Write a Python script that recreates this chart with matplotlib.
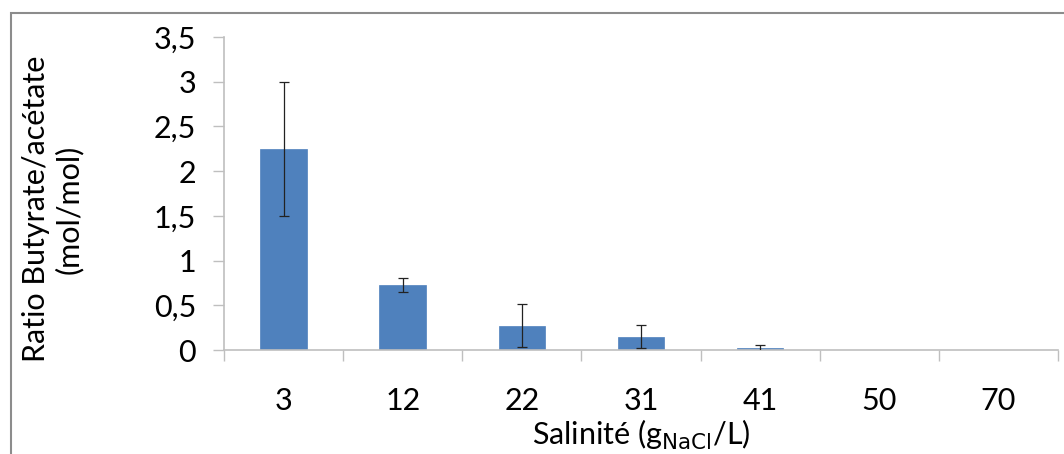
import matplotlib
matplotlib.use("Agg")
import matplotlib.pyplot as plt
from matplotlib.patches import Rectangle

plt.rcParams["font.family"] = ["Lato", "DejaVu Sans"]

salinites = ["3", "12", "22", "31", "41", "50", "70"]
ratios = [2.25, 0.73, 0.27, 0.15, 0.02, 0.0, 0.0]
erreurs = [0.75, 0.08, 0.24, 0.13, 0.04, 0.0, 0.0]
yticks = [0, 0.5, 1, 1.5, 2, 2.5, 3, 3.5]
ytick_labels = ["0", "0,5", "1", "1,5", "2", "2,5", "3", "3,5"]

W, H = 1064, 454
fig = plt.figure(figsize=(W / 100, H / 100), dpi=100)

# cadre gris du graphique (coupé à droite et en bas)
fig.patches.append(
    Rectangle((11 / W, -0.05), 1.2, 1 - 13 / H + 0.05, transform=fig.transFigure,
              fill=False, edgecolor="#8c8c8c", linewidth=1.5)
)

ax = fig.add_axes([224 / W, (H - 350) / H, (1058 - 224) / W, (350 - 37) / H])

x = list(range(len(salinites)))
ax.bar(x, ratios, width=0.39, color="#4F81BD", edgecolor="#4F81BD", linewidth=0.5, zorder=2)
errs = [(i, r, e) for i, r, e in zip(x, ratios, erreurs) if e > 0]
ax.errorbar([e[0] for e in errs], [e[1] for e in errs], yerr=[e[2] for e in errs],
            fmt="none", ecolor="#222222", elinewidth=0.9, capsize=3.5, capthick=0.9, zorder=3)

ax.set_xlim(-0.5, len(salinites) - 0.5)
ax.set_ylim(0, 3.5)

ax.set_yticks(yticks)
ax.set_yticklabels(ytick_labels)
ax.set_xticks(x)
ax.set_xticklabels(salinites)
ax.set_xticks([i - 0.5 for i in range(len(salinites) + 1)], minor=True)

for side in ["top", "right"]:
    ax.spines[side].set_visible(False)
for side in ["left", "bottom"]:
    ax.spines[side].set_color("#BFBFBF")
    ax.spines[side].set_linewidth(1.2)

ax.tick_params(axis="y", length=8, width=1, color="#BFBFBF", labelsize=22, pad=12)
ax.tick_params(axis="x", which="major", length=0, labelsize=22, pad=27)
ax.tick_params(axis="x", which="minor", length=8, width=1, color="#BFBFBF")

ax.set_xlabel("Salinité (g$_{\\mathrm{NaCl}}$/L)", fontsize=22, labelpad=2)
ax.set_ylabel("Ratio Butyrate/acétate\n(mol/mol)", fontsize=22, linespacing=1.2)
ax.yaxis.set_label_coords(-0.169, 0.45)

fig.savefig("out.png", dpi=100)
